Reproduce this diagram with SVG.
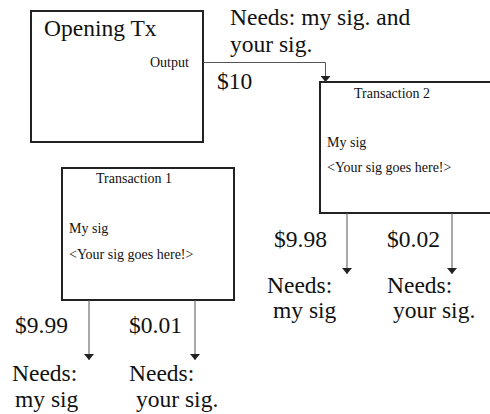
<svg xmlns="http://www.w3.org/2000/svg" width="490" height="414" viewBox="0 0 490 414" font-family="'Liberation Serif', 'Times New Roman', serif">
  <style>
    .big { font-family: "Liberation Serif", "Times New Roman", serif; font-size: 23.5px; fill: #111; }
    .small { font-family: "Liberation Serif", "Times New Roman", serif; font-size: 14px; fill: #111; }
    .box { fill: #fff; stroke: #222; stroke-width: 2; }
    .wire { fill: none; stroke: #555; stroke-width: 1; }
  </style>
  <defs>
    <marker id="arrow" viewBox="0 0 6 10" refX="6" refY="5" markerWidth="6" markerHeight="10" markerUnits="userSpaceOnUse" orient="auto">
      <path d="M0,0 L6,5 L0,10 Z" fill="#222"/>
    </marker>
  </defs>

  <g id="opening-tx">
    <rect class="box" x="31" y="11" width="172" height="131"/>
    <text class="big" x="44" y="36">Opening Tx</text>
    <text class="small" x="150" y="67">Output</text>
  </g>

  <g id="transaction-2">
    <rect class="box" x="320" y="82" width="175" height="131"/>
    <text class="small" x="354" y="98">Transaction 2</text>
    <text class="small" x="327" y="147">My sig</text>
    <text class="small" x="327" y="172">&lt;Your sig goes here!&gt;</text>
  </g>

  <g id="transaction-1">
    <rect class="box" x="62" y="168" width="172" height="132"/>
    <text class="small" x="96" y="183">Transaction 1</text>
    <text class="small" x="69" y="233">My sig</text>
    <text class="small" x="69" y="259">&lt;Your sig goes here!&gt;</text>
  </g>

  <g id="connectors">
    <path class="wire" d="M203,62.5 H325.5 V82" marker-end="url(#arrow)"/>
    <line class="wire" x1="347" y1="213" x2="347" y2="274" marker-end="url(#arrow)"/>
    <line class="wire" x1="452" y1="213" x2="452" y2="274" marker-end="url(#arrow)"/>
    <line class="wire" x1="89" y1="300" x2="89" y2="360" marker-end="url(#arrow)"/>
    <line class="wire" x1="195" y1="300" x2="195" y2="360" marker-end="url(#arrow)"/>
  </g>

  <!-- output of the opening transaction and its spending condition -->
  <g id="opening-output">
    <text class="big" x="230" y="25" font-family="Liberation Serif, serif">Needs: my sig. and</text>
    <text class="big" x="230" y="52" font-family="Liberation Serif, serif">your sig.</text>
    <text class="big" x="217" y="89" font-family="Liberation Serif, serif">$10</text>
  </g>

  <g id="tx2-outputs">
    <text class="big" x="274" y="247" font-family="Liberation Serif, serif">$9.98</text>
    <text class="big" x="387" y="247" font-family="Liberation Serif, serif">$0.02</text>
    <text class="big" x="267" y="293" font-family="Liberation Serif, serif">Needs:</text>
    <text class="big" x="273" y="318" font-family="Liberation Serif, serif">my sig</text>
    <text class="big" x="387" y="293" font-family="Liberation Serif, serif">Needs:</text>
    <text class="big" x="393" y="318" font-family="Liberation Serif, serif">your sig.</text>
  </g>

  <g id="tx1-outputs">
    <text class="big" x="15" y="333" font-family="Liberation Serif, serif">$9.99</text>
    <text class="big" x="129" y="333" font-family="Liberation Serif, serif">$0.01</text>
    <text class="big" x="12" y="381" font-family="Liberation Serif, serif">Needs:</text>
    <text class="big" x="15" y="407" font-family="Liberation Serif, serif">my sig</text>
    <text class="big" x="129" y="381" font-family="Liberation Serif, serif">Needs:</text>
    <text class="big" x="136" y="407" font-family="Liberation Serif, serif">your sig.</text>
  </g>
</svg>
